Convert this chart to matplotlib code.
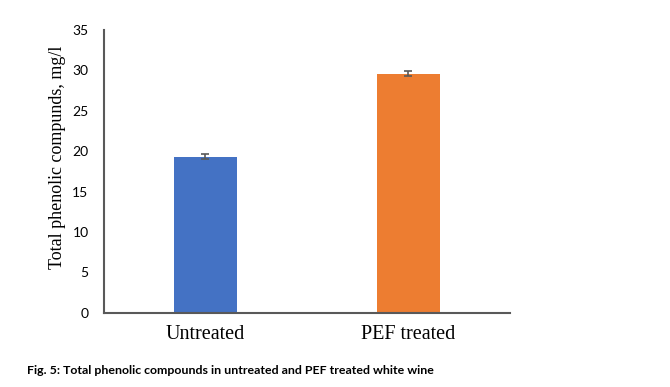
import matplotlib
matplotlib.use("Agg")
import matplotlib.pyplot as plt

categories = ["Untreated", "PEF treated"]
values = [19.3, 29.6]
errors = [0.3, 0.3]
colors = ["#4472C4", "#ED7D31"]

fig = plt.figure(figsize=(6.7, 3.87), dpi=100)
ax = fig.add_axes([0.155, 0.192, 0.606, 0.7305])

x = [0.5, 1.5]
ax.bar(x, values, width=0.31, color=colors, zorder=2)
ax.errorbar(x, values, yerr=errors, fmt="none", ecolor="#595959",
            elinewidth=1.2, capsize=3, capthick=1.2, zorder=3)

ax.set_xlim(0, 2)
ax.set_ylim(0, 35)
ax.set_yticks(range(0, 36, 5))
ax.set_xticks(x)
ax.set_xticklabels(categories, fontfamily="Liberation Serif", fontsize=14.5)
for lbl in ax.get_yticklabels():
    lbl.set_fontfamily("Lato")
    lbl.set_fontsize(10)
ax.tick_params(axis="y", length=0, pad=11)
ax.tick_params(axis="x", length=0, pad=9)

for side in ["top", "right"]:
    ax.spines[side].set_visible(False)
for side in ["left", "bottom"]:
    ax.spines[side].set_color("#595959")
    ax.spines[side].set_linewidth(1.5)

fig.text(58 / 670, 1 - 157 / 387, "Total phenolic compunds, mg/l",
         rotation=90, ha="center", va="center",
         fontfamily="Liberation Serif", fontsize=13)

fig.text(27 / 670, 1 - 371 / 387,
         "Fig. 5: Total phenolic compounds in untreated and PEF treated white wine",
         ha="left", va="center", fontfamily="Lato", fontweight="bold", fontsize=8.9)

fig.savefig("out.png", dpi=100)
